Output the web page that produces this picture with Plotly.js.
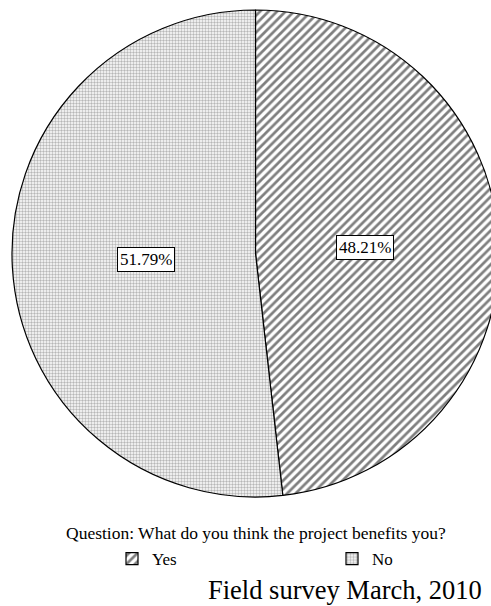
<!DOCTYPE html>
<html>
<head>
<meta charset="utf-8">
<script src="https://cdn.plot.ly/plotly-3.0.1.min.js"></script>
<style>
html,body{margin:0;padding:0;overflow:hidden;background:#fff;width:491px;height:606px;}
#chart{width:500px;height:606px;}
</style>
</head>
<body>
<div id="chart"></div>
<script>
// Data
const categories = ["Yes", "No"];
const percentValues = [48.21, 51.79];
const questionText = "Question: What do you think the project benefits you?";
const sourceText = "Field survey March, 2010";

// Geometry of the page (px)
const W = 500, H = 606;
const M = {l: 12, r: 1, t: 10, b: 109};
const plotW = W - M.l - M.r, plotH = H - M.t - M.b;
const R = Math.min(plotW, plotH) / 2;
const cx = M.l + plotW / 2;
const cy = M.t + plotH / 2;
function toPaperX(px){ return (px - M.l) / plotW; }
function toPaperY(py){ return (H - M.b - py) / plotH; }

// Label positions derived from the values (clockwise from 12 o'clock)
const total = percentValues.reduce((a, b) => a + b, 0);
let acc = 0;
const labelAnns = percentValues.map((v) => {
  const mid = (acc + v / 2) / total * 2 * Math.PI;
  acc += v;
  const f = 0.45;
  const px = cx + f * R * Math.sin(mid);
  const py = cy - f * R * Math.cos(mid);
  return {
    xref: 'paper', yref: 'paper',
    x: toPaperX(px), y: toPaperY(py),
    xanchor: 'center', yanchor: 'middle',
    text: v.toFixed(2) + '%', showarrow: false,
    font: {family: 'Liberation Serif, serif', size: 17, color: '#000'},
    bgcolor: '#fff', bordercolor: '#000', borderwidth: 1, borderpad: 2
  };
});

const trace = {
  type: 'pie',
  labels: categories,
  values: percentValues,
  sort: false,
  direction: 'clockwise',
  rotation: 0,
  textinfo: 'none',
  hoverinfo: 'label+percent',
  domain: {x: [0, 1], y: [0, 1]},
  marker: {
    colors: ['#ffffff', '#ffffff'],
    line: {color: '#000', width: 1.2},
    pattern: {
      shape: ['/', '.'],
      fgcolor: ['#000000', '#707070'],
      bgcolor: ['#ffffff', '#ffffff'],
      size: [6, 3],
      solidity: [0.45, 0.5],
      fillmode: 'overlay'
    }
  }
};

const layout = {
  width: W, height: H,
  margin: M,
  paper_bgcolor: '#fff',
  showlegend: true,
  legend: {
    orientation: 'h',
    xref: 'container', yref: 'container',
    x: 112 / W, xanchor: 'left',
    y: (H - 559) / H, yanchor: 'middle',
    entrywidth: 175, entrywidthmode: 'pixels',
    font: {family: 'Liberation Serif, serif', size: 17, color: '#000'},
    bgcolor: 'rgba(0,0,0,0)'
  },
  annotations: labelAnns.concat([
    {xref: 'paper', yref: 'paper', x: toPaperX(cx), y: toPaperY(533), xanchor: 'center', yanchor: 'middle',
     text: questionText, showarrow: false,
     font: {family: 'Liberation Serif, serif', size: 17.5, color: '#000'}},
    {xref: 'paper', yref: 'paper', x: toPaperX(484), y: toPaperY(590), xanchor: 'right', yanchor: 'middle',
     text: sourceText, showarrow: false,
     font: {family: 'Liberation Serif, serif', size: 26.5, color: '#000'}}
  ])
};

Plotly.newPlot('chart', [trace], layout, {displayModeBar: false, staticPlot: true});
</script>
</body>
</html>
